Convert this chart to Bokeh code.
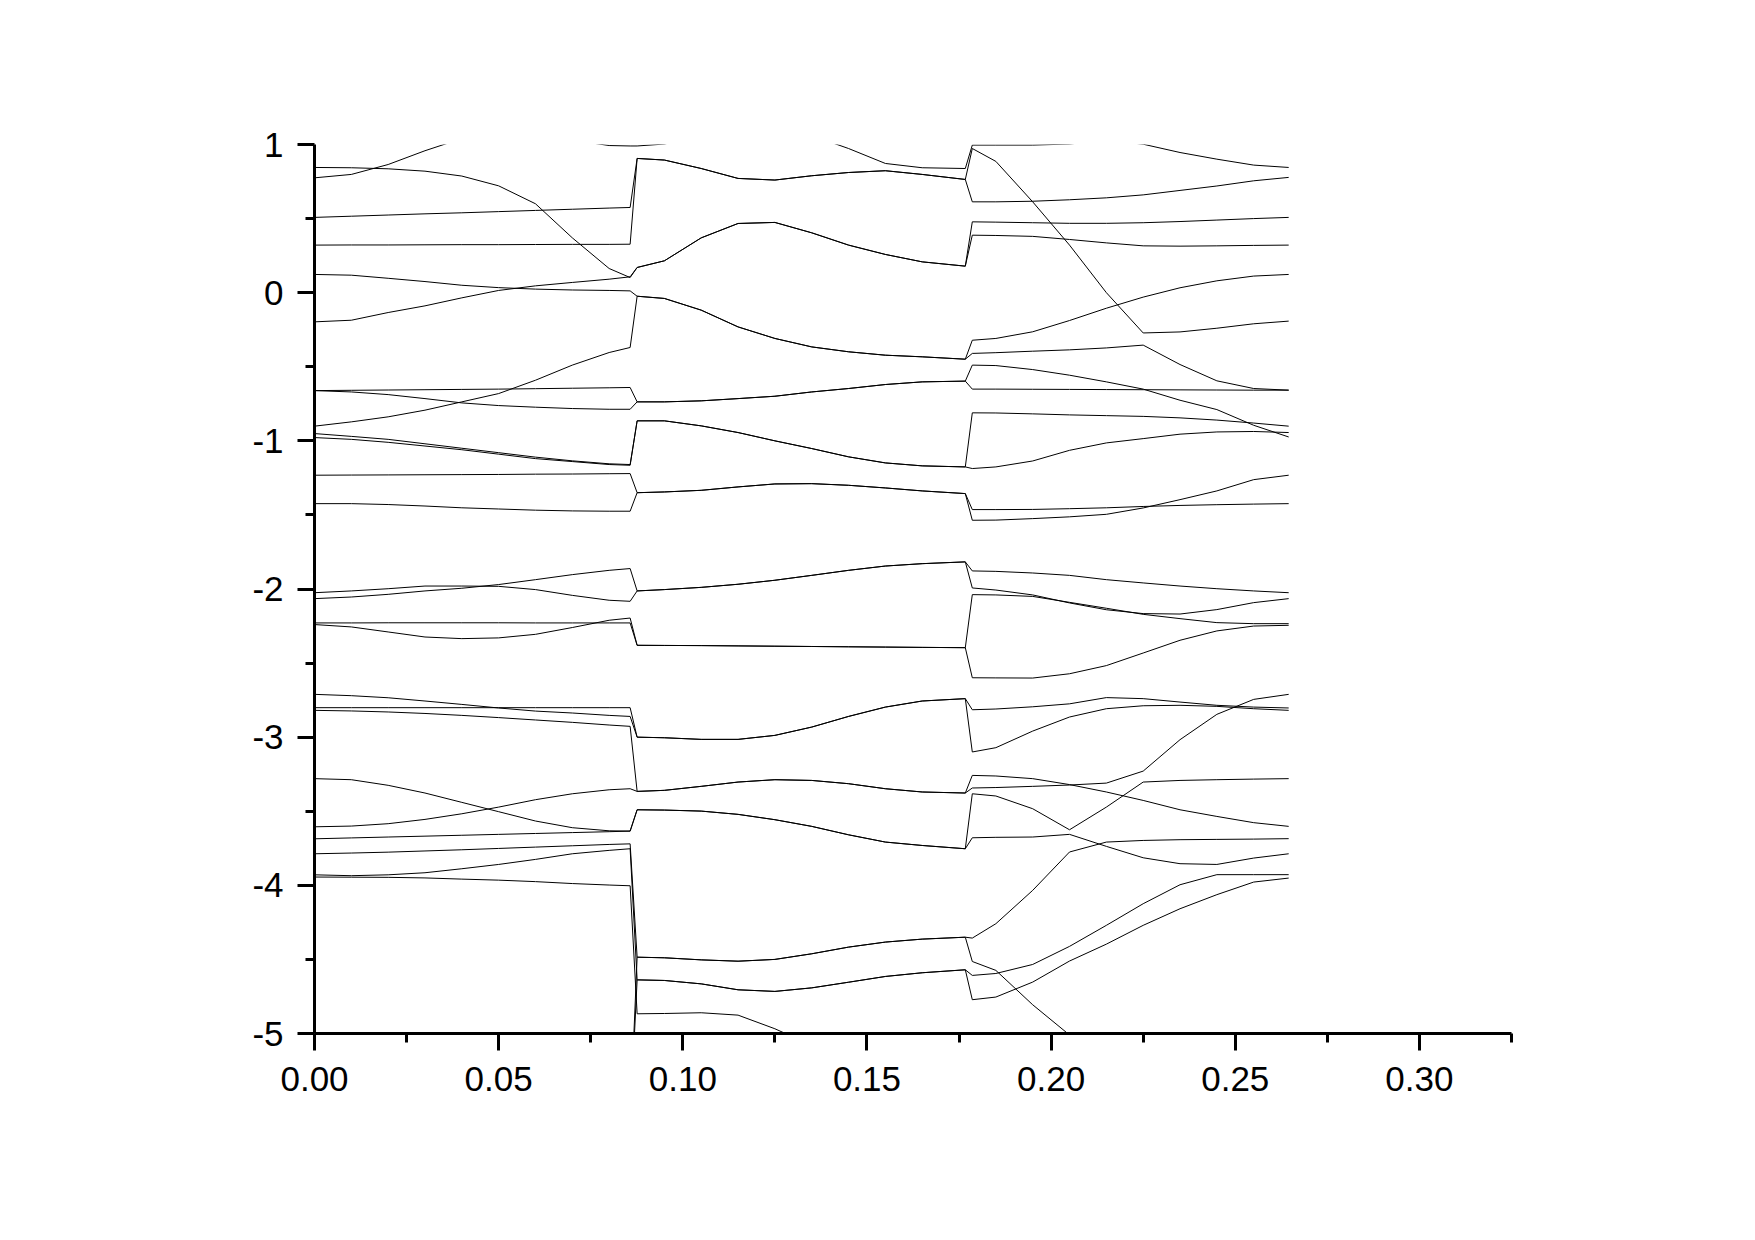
from bokeh.plotting import figure
from bokeh.models import ColumnDataSource, Range1d, FixedTicker, NumeralTickFormatter
from bokeh.embed import file_html
from bokeh.resources import INLINE

# ---- k-points of the three path segments ----
K_SEG1 = [0.0, 0.01, 0.02, 0.03, 0.04, 0.05, 0.06, 0.07, 0.08, 0.0857]
K_SEG2 = [0.0876, 0.095, 0.105, 0.115, 0.125, 0.135, 0.145, 0.155, 0.165, 0.1767]
K_SEG3 = [0.1786, 0.185, 0.195, 0.205, 0.215, 0.225, 0.235, 0.245, 0.255, 0.2645]

# ---- segment 1 ----
S1_A = [0.845, 0.843, 0.836, 0.82, 0.787, 0.721, 0.6, 0.37, 0.163, 0.102]
S1_B = [0.775, 0.798, 0.865, 0.958, 1.04, 1.08, 1.08, 1.03, 0.993, 0.99]
S1_C = [0.508, 0.516, 0.524, 0.532, 0.539, 0.547, 0.555, 0.563, 0.571, 0.575]
S1_D = [0.321, 0.322, 0.322, 0.323, 0.324, 0.324, 0.325, 0.326, 0.326, 0.327]
S1_E = [0.123, 0.118, 0.097, 0.075, 0.05, 0.034, 0.024, 0.018, 0.015, 0.012]
S1_F = [-0.197, -0.186, -0.134, -0.089, -0.035, 0.015, 0.046, 0.069, 0.091, 0.107]
S1_G = [-0.661, -0.659, -0.657, -0.655, -0.653, -0.651, -0.648, -0.645, -0.642, -0.64]
S1_H = [-0.661, -0.67, -0.688, -0.715, -0.744, -0.762, -0.773, -0.782, -0.787, -0.787]
S1_I = [-0.901, -0.872, -0.838, -0.793, -0.737, -0.681, -0.591, -0.489, -0.404, -0.37]
S1_J = [-0.951, -0.97, -0.99, -1.02, -1.05, -1.08, -1.11, -1.135, -1.155, -1.16]
S1_K = [-0.978, -0.99, -1.01, -1.035, -1.06, -1.09, -1.12, -1.14, -1.16, -1.165]
S1_L = [-1.232, -1.231, -1.23, -1.229, -1.228, -1.227, -1.225, -1.224, -1.222, -1.221]
S1_M = [-1.424, -1.424, -1.43, -1.44, -1.452, -1.46, -1.468, -1.473, -1.475, -1.475]
S1_N = [-2.025, -2.013, -1.998, -1.98, -1.98, -1.982, -2.004, -2.043, -2.076, -2.083]
S1_O = [-2.065, -2.054, -2.036, -2.013, -1.995, -1.97, -1.937, -1.903, -1.874, -1.862]
S1_P = [-2.229, -2.229, -2.228, -2.228, -2.228, -2.228, -2.229, -2.229, -2.229, -2.229]
S1_Q = [-2.24, -2.256, -2.29, -2.324, -2.335, -2.33, -2.306, -2.26, -2.211, -2.196]
S1_R = [-2.711, -2.72, -2.734, -2.756, -2.779, -2.803, -2.824, -2.837, -2.853, -2.86]
S1_S = [-2.801, -2.801, -2.801, -2.801, -2.801, -2.801, -2.801, -2.801, -2.801, -2.801]
S1_T = [-2.819, -2.823, -2.83, -2.84, -2.853, -2.868, -2.884, -2.9, -2.918, -2.927]
S1_U = [-3.28, -3.287, -3.325, -3.377, -3.44, -3.503, -3.566, -3.611, -3.632, -3.634]
S1_V = [-3.605, -3.6, -3.584, -3.555, -3.517, -3.472, -3.422, -3.382, -3.355, -3.348]
S1_W = [-3.686, -3.68, -3.674, -3.668, -3.662, -3.656, -3.65, -3.644, -3.638, -3.634]
S1_X = [-3.787, -3.782, -3.776, -3.768, -3.76, -3.751, -3.742, -3.733, -3.724, -3.72]
S1_Y = [-3.929, -3.935, -3.929, -3.915, -3.888, -3.859, -3.825, -3.787, -3.764, -3.753]
S1_Z = [-3.944, -3.945, -3.946, -3.95, -3.958, -3.965, -3.975, -3.988, -3.998, -4.003]
S1_LOW = [-5.6, -5.6, -5.6, -5.6, -5.6, -5.6, -5.6, -5.6, -5.6, -5.6]

# ---- segment 2 (bands pairwise degenerate) ----
S2_B = [0.99, 1.003, 1.06, 1.1, 1.1, 1.06, 0.973, 0.872, 0.843, 0.838]
S2_CD = [0.906, 0.895, 0.838, 0.771, 0.76, 0.789, 0.811, 0.823, 0.798, 0.764]
S2_AF = [0.17, 0.215, 0.37, 0.467, 0.474, 0.404, 0.321, 0.258, 0.208, 0.179]
S2_EI = [-0.024, -0.039, -0.118, -0.231, -0.309, -0.366, -0.399, -0.422, -0.433, -0.449]
S2_GH = [-0.737, -0.737, -0.73, -0.715, -0.699, -0.67, -0.647, -0.62, -0.602, -0.597]
S2_JK = [-0.865, -0.865, -0.899, -0.944, -1.0, -1.052, -1.108, -1.149, -1.169, -1.176]
S2_LM = [-1.35, -1.345, -1.334, -1.311, -1.291, -1.289, -1.30, -1.318, -1.338, -1.356]
S2_NO = [-2.013, -2.004, -1.989, -1.968, -1.941, -1.908, -1.874, -1.845, -1.829, -1.817]
S2_PQ = [-2.38, -2.381, -2.382, -2.384, -2.386, -2.388, -2.39, -2.392, -2.394, -2.396]
S2_RS = [-3.0, -3.004, -3.015, -3.015, -2.988, -2.932, -2.86, -2.797, -2.756, -2.74]
S2_TV = [-3.366, -3.359, -3.332, -3.303, -3.287, -3.292, -3.314, -3.348, -3.37, -3.377]
S2_UW = [-3.49, -3.492, -3.499, -3.521, -3.557, -3.602, -3.659, -3.708, -3.731, -3.753]
S2_X = [-4.485, -4.489, -4.503, -4.512, -4.5, -4.462, -4.417, -4.383, -4.363, -4.35]
S2_Y = [-4.638, -4.642, -4.665, -4.705, -4.716, -4.692, -4.654, -4.615, -4.59, -4.57]
S2_Z = [-4.867, -4.865, -4.86, -4.876, -4.968, -5.08, -5.2, -5.3, -5.4, -5.5]

# ---- segment 3 ----
S3_A = [0.478, 0.476, 0.472, 0.468, 0.468, 0.472, 0.48, 0.49, 0.5, 0.508]
S3_B = [0.996, 0.996, 0.996, 1.003, 1.03, 1.002, 0.946, 0.901, 0.861, 0.845]
S3_C = [0.973, 0.886, 0.613, 0.321, 0.0, -0.272, -0.265, -0.24, -0.21, -0.192]
S3_D = [0.613, 0.613, 0.617, 0.627, 0.64, 0.66, 0.69, 0.72, 0.755, 0.778]
S3_E = [-0.321, -0.309, -0.264, -0.188, -0.105, -0.03, 0.033, 0.08, 0.112, 0.123]
S3_F = [0.388, 0.386, 0.38, 0.359, 0.336, 0.316, 0.314, 0.316, 0.319, 0.321]
S3_G = [-0.489, -0.492, -0.519, -0.557, -0.602, -0.651, -0.726, -0.789, -0.895, -0.974]
S3_H = [-0.651, -0.651, -0.652, -0.653, -0.654, -0.655, -0.656, -0.657, -0.658, -0.658]
S3_I = [-0.41, -0.405, -0.395, -0.386, -0.373, -0.354, -0.485, -0.595, -0.647, -0.658]
S3_J = [-0.811, -0.812, -0.818, -0.825, -0.83, -0.835, -0.845, -0.86, -0.88, -0.901]
S3_K = [-1.187, -1.176, -1.136, -1.064, -1.014, -0.985, -0.955, -0.94, -0.937, -0.944]
S3_L = [-1.464, -1.464, -1.463, -1.458, -1.452, -1.443, -1.436, -1.431, -1.427, -1.424]
S3_M = [-1.536, -1.535, -1.525, -1.513, -1.496, -1.453, -1.397, -1.338, -1.262, -1.232]
S3_N = [-1.878, -1.881, -1.892, -1.908, -1.937, -1.959, -1.98, -1.998, -2.013, -2.025]
S3_O = [-1.993, -2.007, -2.04, -2.094, -2.14, -2.166, -2.169, -2.139, -2.092, -2.065]
S3_P = [-2.038, -2.04, -2.05, -2.09, -2.13, -2.171, -2.2, -2.227, -2.234, -2.234]
S3_Q = [-2.599, -2.6, -2.601, -2.572, -2.517, -2.432, -2.346, -2.283, -2.25, -2.245]
S3_R = [-2.815, -2.81, -2.795, -2.775, -2.733, -2.74, -2.763, -2.785, -2.797, -2.803]
S3_S = [-3.1, -3.071, -2.959, -2.864, -2.808, -2.788, -2.785, -2.792, -2.808, -2.819]
S3_T = [-3.258, -3.262, -3.28, -3.32, -3.37, -3.427, -3.49, -3.535, -3.577, -3.602]
S3_U = [-3.382, -3.397, -3.483, -3.625, -3.472, -3.303, -3.292, -3.287, -3.283, -3.28]
S3_V = [-3.343, -3.34, -3.332, -3.323, -3.31, -3.229, -3.017, -2.846, -2.745, -2.711]
S3_W = [-3.679, -3.676, -3.674, -3.656, -3.737, -3.814, -3.854, -3.859, -3.816, -3.787]
S3_X = [-4.356, -4.259, -4.034, -3.775, -3.708, -3.697, -3.692, -3.69, -3.688, -3.685]
S3_Y = [-4.608, -4.595, -4.534, -4.412, -4.27, -4.124, -3.996, -3.928, -3.928, -3.928]
S3_Z = [-5.6, -5.6, -5.6, -5.6, -5.6, -5.6, -5.6, -5.6, -5.6, -5.6]
S3_BETA = [-4.514, -4.574, -4.806, -5.01, -5.2, -5.4, -5.6, -5.6, -5.6, -5.6]
S3_GAMMA = [-4.772, -4.754, -4.653, -4.511, -4.397, -4.27, -4.158, -4.063, -3.978, -3.951]

X_TICKS = [0.0, 0.05, 0.10, 0.15, 0.20, 0.25, 0.30]
X_MINOR = [0.025, 0.075, 0.125, 0.175, 0.225, 0.275, 0.325]
Y_TICKS = [-5, -4, -3, -2, -1, 0, 1]
Y_MINOR = [-4.5, -3.5, -2.5, -1.5, -0.5, 0.5]

K_ALL = K_SEG1 + K_SEG2 + K_SEG3
BANDS = [
    S1_A + S2_AF + S3_A,
    S1_B + S2_B + S3_B,
    S1_C + S2_CD + S3_C,
    S1_D + S2_CD + S3_D,
    S1_E + S2_EI + S3_E,
    S1_F + S2_AF + S3_F,
    S1_G + S2_GH + S3_G,
    S1_H + S2_GH + S3_H,
    S1_I + S2_EI + S3_I,
    S1_J + S2_JK + S3_J,
    S1_K + S2_JK + S3_K,
    S1_L + S2_LM + S3_L,
    S1_M + S2_LM + S3_M,
    S1_N + S2_NO + S3_N,
    S1_O + S2_NO + S3_O,
    S1_P + S2_PQ + S3_P,
    S1_Q + S2_PQ + S3_Q,
    S1_R + S2_RS + S3_R,
    S1_S + S2_RS + S3_S,
    S1_T + S2_TV + S3_T,
    S1_U + S2_UW + S3_U,
    S1_V + S2_TV + S3_V,
    S1_W + S2_UW + S3_W,
    S1_X + S2_X + S3_X,
    S1_Y + S2_Y + S3_Y,
    S1_Z + S2_Z + S3_Z,
    S1_LOW + S2_X + S3_BETA,
    S1_LOW + S2_Y + S3_GAMMA,
]

source = ColumnDataSource(data=dict(xs=[K_ALL] * len(BANDS), ys=BANDS))

p = figure(width=1735, height=1220, output_backend="svg", toolbar_location=None,
           x_range=Range1d(0, 0.325), y_range=Range1d(-5, 1),
           min_border_left=314, min_border_right=224,
           min_border_top=144, min_border_bottom=187)

p.multi_line(xs="xs", ys="ys", source=source, line_color="black", line_width=1)

p.xgrid.visible = False
p.ygrid.visible = False
p.outline_line_color = None
p.background_fill_color = "white"
p.border_fill_color = "white"

p.xaxis.ticker = FixedTicker(ticks=X_TICKS, minor_ticks=X_MINOR)
p.yaxis.ticker = FixedTicker(ticks=Y_TICKS, minor_ticks=Y_MINOR)
p.xaxis.formatter = NumeralTickFormatter(format="0.00")
p.yaxis.formatter = NumeralTickFormatter(format="0")

for ax in (p.xaxis[0], p.yaxis[0]):
    ax.axis_line_width = 3
    ax.axis_line_color = "black"
    ax.major_tick_line_width = 3
    ax.major_tick_line_color = "black"
    ax.major_tick_out = 17
    ax.major_tick_in = 0
    ax.minor_tick_line_width = 3
    ax.minor_tick_line_color = "black"
    ax.minor_tick_out = 9
    ax.minor_tick_in = 0
    ax.major_label_text_font = "Liberation Sans"
    ax.major_label_text_font_size = "35px"
    ax.major_label_text_color = "black"

p.yaxis.major_label_standoff = 14
p.xaxis.major_label_standoff = 16

open("out.html", "w").write(file_html(p, INLINE))
